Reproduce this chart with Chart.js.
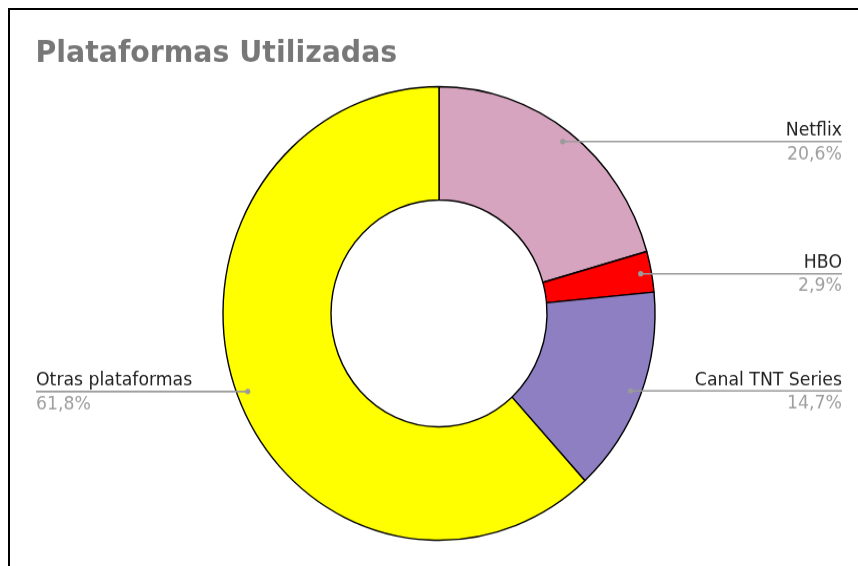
<!DOCTYPE html>
<html>
<head>
<meta charset="utf-8">
<script src="https://cdn.jsdelivr.net/npm/chart.js@4"></script>
<style>
  html, body { margin: 0; padding: 0; background: #fff; overflow: hidden; }
  body { width: 858px; height: 566px; position: relative; }
  #frame { position: absolute; left: 7.5px; top: 8px; width: 900px; height: 600px;
           border-left: 2px solid #000; border-top: 2px solid #000; box-sizing: border-box; }
  #wrap { position: absolute; left: 0; top: 0; width: 858px; height: 539px;
          transform: scale(1, 1.05); transform-origin: 0 0; }
</style>
</head>
<body>
<div id="frame"></div>
<div id="wrap"><canvas id="c" width="858" height="539"></canvas></div>
<script>
const titleText = 'Plataformas Utilizadas';
const categories = ['Netflix', 'HBO', 'Canal TNT Series', 'Otras plataformas'];
const shares = [20.6, 2.9, 14.7, 61.8];
const sliceColors = ['#d6a4bf', '#ff0000', '#8d7fc1', '#ffff00'];

const FONT = '"DejaVu Sans", Verdana, sans-serif';

const sideLabels = {
  id: 'sideLabels',
  afterDraw(chart) {
    const ctx = chart.ctx;
    const meta = chart.getDatasetMeta(0);
    const total = shares.reduce((a, b) => a + b, 0);
    ctx.save();
    ctx.font = 'bold 28.4px ' + FONT;
    ctx.fillStyle = '#777777';
    ctx.textAlign = 'left';
    ctx.textBaseline = 'alphabetic';
    ctx.fillText(titleText, 35.5, 58.8);

    meta.data.forEach((arc, i) => {
      const p = arc.getProps(['x', 'y', 'startAngle', 'endAngle', 'outerRadius'], true);
      const mid = (p.startAngle + p.endAngle) / 2;
      const r = p.outerRadius * 0.95;
      const px = p.x + Math.cos(mid) * r;
      const py = p.y + Math.sin(mid) * r;
      const right = px > p.x;
      const edge = right ? 842 : 36;

      ctx.strokeStyle = '#9a9a9a';
      ctx.lineWidth = 1.6;
      ctx.beginPath();
      ctx.moveTo(px, py);
      ctx.lineTo(edge, py);
      ctx.stroke();

      ctx.fillStyle = '#9a9a9a';
      ctx.beginPath();
      ctx.arc(px, py, 2.6, 0, Math.PI * 2);
      ctx.fill();

      ctx.textAlign = right ? 'right' : 'left';
      ctx.font = '17.3px ' + FONT;
      ctx.fillStyle = '#222222';
      ctx.fillText(categories[i], edge, py - 5.5);
      ctx.fillStyle = '#9e9e9e';
      const pct = (shares[i] / total * 100).toFixed(1).replace('.', ',') + '%';
      ctx.fillText(pct, edge, py + 16.8);
    });
    ctx.restore();
  }
};

new Chart(document.getElementById('c'), {
  type: 'doughnut',
  data: {
    labels: categories,
    datasets: [{
      data: shares,
      backgroundColor: sliceColors,
      borderColor: '#000000',
      borderWidth: 1.4,
      hoverOffset: 0,
      offset: 0
    }]
  },
  options: {
    responsive: false,
    devicePixelRatio: 1,
    animation: false,
    events: [],
    radius: 216,
    cutout: '50%',
    layout: { padding: { left: 20, right: 0, top: 58, bottom: 0 } },
    plugins: {
      legend: { display: false },
      title: { display: false },
      tooltip: { enabled: false }
    }
  },
  plugins: [sideLabels]
});
</script>
</body>
</html>
